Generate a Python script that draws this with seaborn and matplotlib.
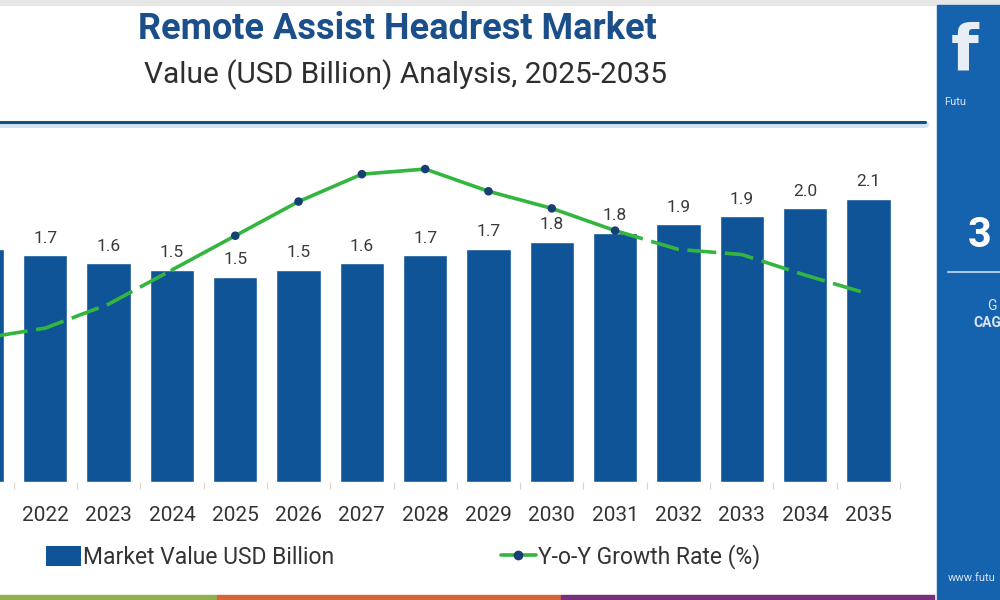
import numpy as np
import pandas as pd
import matplotlib.pyplot as plt
import seaborn as sns
from matplotlib.patches import Rectangle, Patch
from matplotlib.lines import Line2D

sns.set_theme(style="white")
plt.rcParams['font.family'] = ['Roboto', 'DejaVu Sans']

years = ['2021', '2022', '2023', '2024', '2025', '2026', '2027', '2028',
         '2029', '2030', '2031', '2032', '2033', '2034', '2035']
market_value = [1.74, 1.69, 1.63, 1.58, 1.53, 1.58, 1.63, 1.69,
                1.74, 1.79, 1.86, 1.92, 1.98, 2.04, 2.11]
value_labels = ['1.7', '1.7', '1.6', '1.5', '1.5', '1.5', '1.6', '1.7',
                '1.7', '1.8', '1.8', '1.9', '1.9', '2.0', '2.1']
growth_rate = [4.2, 4.5, 5.2, 6.2, 7.2, 8.2, 9.0, 9.15,
               8.5, 8.0, 7.35, 6.8, 6.65, 6.05, 5.5]

bar_color = '#0f5496'
line_color = '#33b540'
dot_color = '#163f73'

df = pd.DataFrame({'year': years, 'value': market_value, 'growth': growth_rate})
df['pos'] = np.arange(len(df))

fig = plt.figure(figsize=(10, 6), dpi=100)
fig.patch.set_facecolor('white')

ax = fig.add_axes([0, 0.1967, 0.9, 0.57])
sns.barplot(data=df, x='year', y='value', color=bar_color, width=0.7,
            saturation=1, ax=ax)
for patch, lab in zip(ax.patches, value_labels):
    ax.annotate(lab, (patch.get_x() + patch.get_width() / 2, patch.get_height()),
                ha='center', va='bottom', xytext=(0, 7), textcoords='offset points',
                fontsize=12.5, color='#3a3a3a')
ax.set_ylim(0, 2.55)
ax.set_xlim(0.284, 14.5)
ax.set_xlabel('')
ax.set_ylabel('')
ax.set_yticks([])
for s in ax.spines.values():
    s.set_visible(False)
ax.set_xticks(np.arange(len(years)) + 0.5, minor=True)
ax.tick_params(axis='x', which='major', length=0, pad=17, labelsize=15, labelcolor='#333333')
ax.tick_params(axis='x', which='minor', length=5, width=0.8, color='#e0d2c4', direction='out')
ax.xaxis.set_tick_params(which='minor', bottom=True)

ax2 = ax.twinx()
ax2.set_ylim(0, 10)
dash = (0, (8, 2.4))
left = df[df['pos'] <= 3]
mid = df[(df['pos'] >= 3) & (df['pos'] <= 10)]
right = df[df['pos'] >= 10]
sns.lineplot(data=left, x='pos', y='growth', color=line_color, linewidth=2.6,
             linestyle=dash, ax=ax2, legend=False)
sns.lineplot(data=mid, x='pos', y='growth', color=line_color, linewidth=2.6,
             ax=ax2, legend=False)
sns.lineplot(data=right, x='pos', y='growth', color=line_color, linewidth=2.6,
             linestyle=dash, ax=ax2, legend=False)
dots = df[(df['pos'] >= 4) & (df['pos'] <= 10)]
sns.scatterplot(data=dots, x='pos', y='growth', color=dot_color, s=38,
                edgecolor='none', ax=ax2, zorder=5, legend=False)
ax2.set_xlim(0.284, 14.5)
ax2.set_yticks([])
ax2.set_xlabel('')
ax2.set_ylabel('')
for s in ax2.spines.values():
    s.set_visible(False)

# titles
fig.text(0.397, 0.952, 'Remote Assist Headrest Market', ha='center', va='center',
         fontsize=26, fontweight='bold', color='#1b4f8a')
fig.text(0.405, 0.875, 'Value (USD Billion) Analysis, 2025-2035', ha='center', va='center',
         fontsize=21.5, color='#2e2e2e')

# header rule
fig.add_artist(Line2D([0, 0.925], [0.793, 0.793], color='#cfe3f3', linewidth=5, transform=fig.transFigure))
fig.add_artist(Line2D([0, 0.925], [0.797, 0.797], color='#1d4e79', linewidth=2.2, transform=fig.transFigure))

# top grey strip
fig.add_artist(Rectangle((0, 0.992), 1, 0.008, transform=fig.transFigure, color='#e6e6e6', zorder=0))

# legend
handles = [Patch(facecolor=bar_color, edgecolor='none'),
           Line2D([0], [0], color=line_color, linewidth=2.6, marker='o',
                  markersize=6, markerfacecolor=dot_color, markeredgecolor=dot_color)]
fig.legend(handles, ['Market Value USD Billion', 'Y-o-Y Growth Rate (%)'],
           loc='center left', bbox_to_anchor=(0.037, 0.072), ncol=2, frameon=False,
           fontsize=16.5, handlelength=1.5, handleheight=1.0, handletextpad=0.1,
           columnspacing=7.3, labelcolor='#333333', borderaxespad=0)

# bottom colour strips
for x0, x1, c in [(0, 0.217, '#8fb04d'), (0.217, 0.561, '#d8653a'), (0.561, 0.934, '#7a2f7a')]:
    fig.add_artist(Rectangle((x0, 0), x1 - x0, 0.009, transform=fig.transFigure, color=c, zorder=3))

# right side panel (only its left edge is in frame)
fig.add_artist(Rectangle((0.937, 0), 0.063, 0.992, transform=fig.transFigure, color='#1563ae', zorder=2))
fig.text(0.951, 0.912, 'f', fontsize=46, fontweight='bold', color='#e8eef6', family='DejaVu Sans',
         va='center', ha='left', zorder=4)
fig.text(0.944, 0.83, 'Futu', fontsize=8, color='#d8e4f2', va='center', ha='left', zorder=4)
fig.text(0.968, 0.608, '3', fontsize=30, fontweight='bold', color='white', va='center', ha='left', zorder=4)
fig.add_artist(Line2D([0.948, 1.0], [0.547, 0.547], color='#a8c8e8', linewidth=1.5, transform=fig.transFigure, zorder=4))
fig.text(0.987, 0.49, 'G', fontsize=10, color='#d8e4f2', va='center', ha='left', zorder=4)
fig.text(0.973, 0.462, 'CAG', fontsize=10, fontweight='bold', color='#d8e4f2', va='center', ha='left', zorder=4)
fig.text(0.948, 0.037, 'www.futu', fontsize=8, color='#d8e4f2', va='center', ha='left', zorder=4)

fig.savefig('out.png', dpi=100)
